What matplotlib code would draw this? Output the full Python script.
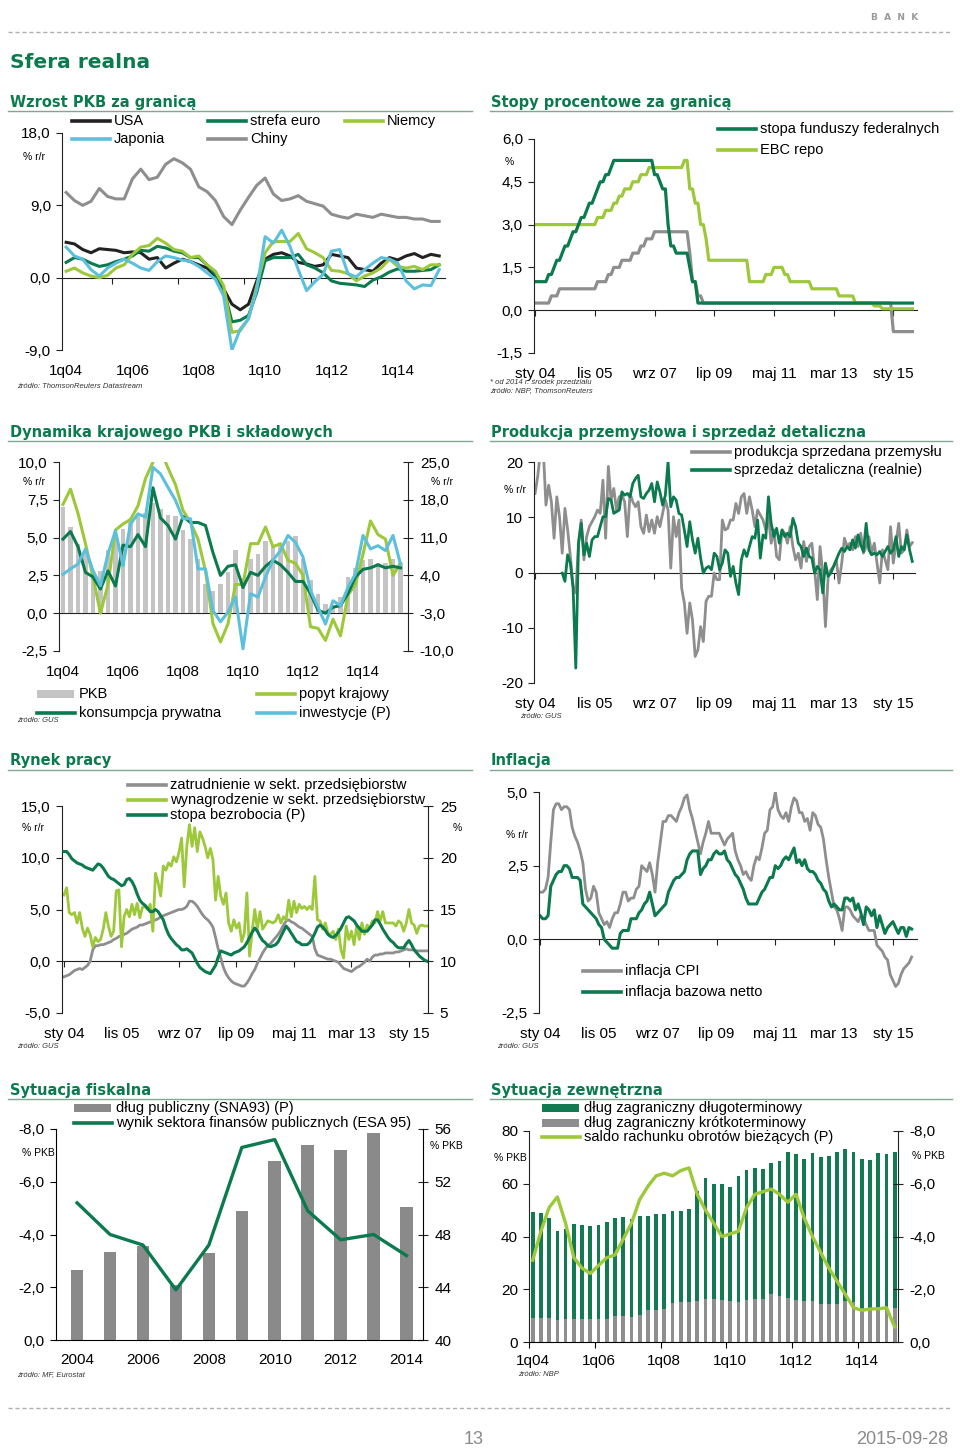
import numpy as np
import matplotlib
matplotlib.use('Agg')
import matplotlib.pyplot as plt
from matplotlib.lines import Line2D
from matplotlib.patches import Rectangle

plt.rcParams['font.family'] = ['Liberation Sans', 'DejaVu Sans']

# ---------------- data ----------------
# quarterly 1q04 - 2q15
q_ticks = [0, 8, 16, 24, 32, 40]
q_labels = ['1q04', '1q06', '1q08', '1q10', '1q12', '1q14']
# monthly sty 04 - sie 15
m_ticks = [0, 22, 44, 66, 88, 110, 132]
m_labels = ['sty 04', 'lis 05', 'wrz 07', 'lip 09', 'maj 11', 'mar 13', 'sty 15']

# Wzrost PKB za granica (% r/r)
usa = [4.4, 4.2, 3.5, 3.1, 3.6, 3.5, 3.4, 3.1, 3.2, 3.1, 2.3, 2.5, 1.2, 1.8, 2.3, 2.0,
       1.6, 1.2, 0.2, -1.4, -3.3, -4.0, -3.3, -0.4, 2.3, 2.9, 3.1, 2.7, 1.9, 1.7, 1.4, 1.6,
       2.9, 2.7, 2.5, 1.2, 1.0, 0.8, 1.8, 2.5, 2.2, 2.7, 3.0, 2.5, 2.9, 2.7]
strefa_euro = [1.9, 2.5, 2.3, 1.8, 1.4, 1.6, 2.0, 2.3, 2.7, 3.4, 3.3, 3.9, 3.7, 3.3, 3.1, 2.5,
               2.5, 1.6, 0.4, -1.4, -5.5, -5.3, -4.7, -1.8, 2.1, 2.5, 2.5, 2.5, 2.9, 1.6, 1.2, 0.6,
               -0.4, -0.7, -0.8, -0.9, -1.1, -0.3, 0.1, 0.7, 1.1, 0.8, 0.8, 0.9, 1.0, 1.6]
niemcy = [0.8, 1.2, 0.6, 0.2, 0.0, 0.3, 1.2, 1.6, 2.9, 3.8, 4.0, 4.9, 4.3, 3.5, 3.3, 2.5,
          2.7, 1.6, 0.8, -1.0, -6.8, -6.6, -5.1, -1.0, 3.1, 4.5, 4.5, 4.5, 5.5, 3.6, 3.1, 2.5,
          0.9, 0.8, 0.5, -0.4, 0.2, 0.6, 1.2, 2.3, 1.4, 1.2, 1.4, 1.0, 1.6, 1.6]
japonia = [3.8, 2.7, 2.3, 1.0, 0.2, 1.2, 1.8, 2.3, 1.8, 1.2, 0.9, 2.0, 2.7, 2.5, 2.2, 2.0,
           1.4, 0.6, -0.2, -2.3, -9.0, -6.4, -5.1, -1.4, 5.1, 4.3, 5.9, 3.9, 1.0, -1.6, -0.5, 0.4,
           3.3, 3.5, 0.5, 0.1, 1.0, 1.8, 2.5, 2.3, 1.8, -0.4, -1.4, -0.9, -1.0, 1.0]
chiny = [10.6, 9.6, 9.0, 9.5, 11.1, 10.1, 9.8, 9.8, 12.3, 13.5, 12.2, 12.5, 14.1, 14.8, 14.3, 13.5,
         11.3, 10.7, 9.6, 7.6, 6.6, 8.4, 10.0, 11.5, 12.4, 10.4, 9.6, 9.8, 10.2, 9.5, 9.2, 8.9,
         7.9, 7.6, 7.4, 7.9, 7.7, 7.5, 7.9, 7.7, 7.5, 7.5, 7.3, 7.3, 7.0, 7.0]

# Stopy procentowe: miesiac zmiany (0 = sty 04) i poziom stopy
fed_month = [0, 5, 7, 8, 10, 11, 13, 14, 16, 17, 19, 20, 22, 23, 24, 26, 28, 29,
             44, 46, 47, 49, 50, 52, 57, 58, 60]
fed_rate = [1.0, 1.25, 1.5, 1.75, 2.0, 2.25, 2.5, 2.75, 3.0, 3.25, 3.5, 3.75, 4.0, 4.25,
            4.5, 4.75, 5.0, 5.25, 4.75, 4.5, 4.25, 3.0, 2.25, 2.0, 1.5, 1.0, 0.25]
ebc_month = [0, 23, 26, 29, 31, 33, 36, 39, 42, 55, 57, 59, 61, 63, 64, 79, 85, 88, 92,
             94, 102, 112, 118, 125, 128]
ebc_rate = [3.0, 3.25, 3.5, 3.75, 4.0, 4.25, 4.5, 4.75, 5.0, 5.25, 4.25, 3.75, 3.0, 2.5,
            1.75, 1.0, 1.25, 1.5, 1.25, 1.0, 0.75, 0.5, 0.25, 0.15, 0.05]
snb_month = [0, 6, 9, 23, 27, 29, 32, 36, 39, 41, 44, 57, 58, 60, 62, 132]
snb_rate = [0.25, 0.5, 0.75, 1.0, 1.25, 1.5, 1.75, 2.0, 2.25, 2.5, 2.75, 2.0, 1.0, 0.5,
            0.25, -0.75]

# Dynamika krajowego PKB i skladowych
pkb = [7.0, 5.7, 4.6, 4.0, 2.5, 2.8, 4.2, 5.2, 5.6, 6.2, 6.4, 6.6, 7.3, 6.9, 6.5, 6.4,
       5.5, 4.9, 3.6, 1.9, 1.5, 1.9, 2.7, 4.2, 2.3, 3.6, 3.9, 4.8, 4.5, 4.6, 4.8, 5.1,
       3.6, 2.2, 1.3, 0.6, 0.5, 1.1, 2.4, 3.0, 3.5, 3.6, 3.3, 3.3, 3.6, 3.3]
popyt = [7.2, 8.2, 6.6, 4.6, 2.4, 0.0, 1.9, 5.5, 5.9, 6.2, 7.1, 8.9, 10.0, 10.8, 9.6, 8.5,
         6.8, 6.0, 4.9, 2.8, -0.7, -1.9, -0.7, 1.9, 1.9, 4.6, 4.6, 5.7, 4.4, 4.6, 3.5, 3.3,
         2.5, -0.9, -1.0, -1.8, -0.4, -1.5, 1.2, 1.9, 3.9, 6.1, 5.2, 4.9, 2.5, 3.3]
konsumpcja = [4.9, 5.4, 4.4, 2.7, 2.4, 1.6, 2.8, 1.8, 4.5, 4.4, 5.2, 4.4, 8.3, 6.3, 5.8, 4.9,
              6.4, 6.0, 6.0, 5.8, 4.0, 2.5, 3.1, 3.2, 1.7, 2.7, 2.5, 3.1, 3.5, 3.2, 2.7, 2.1,
              2.1, 1.3, 0.2, 0.0, 0.4, 0.5, 1.3, 2.4, 2.9, 3.0, 3.2, 3.0, 3.1, 3.0]
inwestycje = [4.2, 5.2, 6.1, 8.9, 4.9, 2.1, 8.0, 12.3, 5.8, 13.5, 15.4, 14.8, 24.0, 22.8, 20.3, 17.9,
              14.5, 14.5, 5.2, 5.2, -2.5, -4.6, -2.8, 0.0, -9.6, 0.6, 0.0, 3.7, 6.8, 8.6, 11.4, 10.1,
              7.4, 1.2, -1.9, -5.0, -0.7, -1.6, 1.8, 4.3, 11.4, 8.9, 9.5, 8.6, 11.4, 6.1]

# Produkcja przemyslowa i sprzedaz detaliczna (% r/r, miesiecznie)
produkcja = [14.3, 17.5, 22.0, 22.5, 12.2, 15.8, 12.8, 6.2, 13.7, 10.1,
             3.5, 11.6, 7.7, 2.9, -2.5, -3.7, 5.3, 9.5, 2.3, 6.5,
             8.3, 9.2, 10.1, 11.3, 10.7, 16.7, 6.2, 19.2, 13.1, 15.2,
             11.3, 13.7, 14.0, 12.8, 6.5, 14.3, 12.8, 11.9, 12.8, 8.3,
             7.1, 10.4, 7.4, 9.5, 7.1, 10.1, 8.3, 10.7, 13.1, 11.3,
             0.8, 10.1, 6.5, 9.5, -2.8, -5.5, -11.0, -5.5, -8.6, -15.2,
             -14.0, -9.8, -12.5, -5.2, -4.3, -4.3, -0.1, -1.3, -1.3, 9.5,
             7.7, 8.0, 9.5, 9.5, 12.5, 10.7, 13.7, 14.3, 10.7, 13.7,
             11.3, 8.3, 11.3, 10.4, 9.5, 7.7, 10.1, 5.3, 7.7, 2.9,
             2.3, 7.7, 7.1, 5.3, 8.3, 4.7, 2.3, 3.5, 0.8, 5.6,
             2.0, 4.7, 5.3, 0.5, -4.9, 4.7, -0.1, -9.8, -0.7, 0.5,
             1.1, 2.3, -1.9, 1.7, 6.2, 4.7, 5.3, 4.1, 6.5, 4.7,
             7.1, 3.5, 4.7, 6.5, 3.5, 5.3, 1.7, -1.9, 4.1, 2.3,
             0.5, 8.3, 1.7, 5.3, 8.9, 3.5, 4.1, 7.7, 4.7, 5.4]
sprzedaz_start = 10
sprzedaz = [-0.1, -1.6, 3.2, 1.7, -2.8, -17.3, 5.3, 8.9, 3.2, 5.3,
            2.9, 5.9, 6.5, 6.5, 8.3, 10.1, 10.1, 13.4, 13.1, 10.7,
            11.0, 11.3, 14.6, 14.0, 14.3, 13.7, 16.1, 17.0, 17.6, 13.7,
            13.4, 14.3, 14.9, 16.1, 12.8, 16.4, 14.6, 12.2, 14.0, 20.0,
            11.9, 13.7, 13.1, 10.7, 10.4, 7.7, 4.7, 9.2, 5.9, 3.5,
            6.2, 2.6, -0.1, 0.8, 1.1, 0.5, 3.5, 2.9, 0.5, 1.7,
            4.1, 3.5, -0.7, 1.1, -1.9, -4.0, 2.3, 4.1, 2.9, 4.7,
            6.5, 6.2, 9.5, 2.6, 6.8, 6.2, 13.7, 8.9, 6.5, 8.0,
            5.3, 7.7, 6.5, 7.1, 6.5, 9.8, 8.3, 5.3, 4.7, 2.9,
            4.4, 2.9, 2.6, -0.1, 1.1, 0.5, -3.7, 1.7, -0.7, -0.1,
            1.1, 2.3, 3.5, 4.4, 3.8, 4.7, 4.1, 5.9, 4.4, 6.8,
            5.0, 3.8, 8.9, 4.1, 3.2, 3.5, 3.2, 3.8, 2.9, 3.8,
            4.7, 3.5, 4.1, 6.5, 2.9, 4.7, 4.1, 6.8, 4.1, 2.0]

# Rynek pracy
zatrudnienie = [-1.5, -1.4, -1.3, -1.1, -0.9, -0.8, -0.7, -0.8, -0.6, -0.4,
                0.0, 1.1, 1.5, 1.5, 1.6, 1.6, 1.7, 1.8, 1.9, 2.1,
                2.2, 2.4, 2.4, 2.6, 2.7, 2.9, 3.1, 3.2, 3.3, 3.5,
                3.5, 3.6, 3.7, 3.8, 3.9, 4.0, 4.1, 4.3, 4.4, 4.5,
                4.6, 4.7, 4.8, 4.9, 5.0, 5.0, 5.1, 5.3, 5.8, 5.8,
                5.6, 5.3, 4.9, 4.5, 4.2, 4.0, 3.7, 3.3, 2.3, 1.2,
                0.3, -0.6, -1.2, -1.6, -1.9, -2.1, -2.2, -2.3, -2.4, -2.4,
                -2.1, -1.7, -1.2, -0.8, -0.2, 0.3, 0.8, 1.2, 1.5, 1.7,
                2.0, 2.3, 2.6, 3.0, 3.5, 3.9, 4.0, 3.8, 3.7, 3.5,
                3.3, 3.2, 3.0, 2.8, 2.6, 2.4, 1.2, 0.6, 0.5, 0.4,
                0.3, 0.2, 0.2, 0.1, 0.0, -0.1, -0.4, -0.7, -0.8, -0.9,
                -1.0, -0.8, -0.6, -0.5, -0.3, -0.1, 0.2, 0.0, 0.4, 0.6,
                0.6, 0.7, 0.7, 0.8, 0.8, 0.8, 0.8, 0.9, 0.9, 1.0,
                1.1, 1.2, 1.1, 1.1, 1.1, 1.0, 1.0, 1.0, 1.0, 1.0]
wynagrodzenie = [6.4, 7.1, 4.7, 4.5, 4.7, 3.7, 4.7, 3.2, 2.4, 3.2,
                 2.6, 1.4, 2.3, 1.9, 2.1, 3.1, 4.7, 3.4, 2.4, 2.9,
                 6.8, 6.9, 1.4, 4.3, 5.0, 4.3, 5.5, 4.5, 5.6, 4.2,
                 5.2, 5.3, 5.0, 5.5, 2.9, 8.5, 7.6, 6.3, 9.2, 8.8,
                 9.5, 9.2, 10.1, 9.6, 10.5, 11.9, 7.2, 11.1, 13.2, 11.1,
                 12.9, 10.6, 12.5, 11.9, 11.1, 10.0, 10.9, 9.8, 5.9, 8.2,
                 6.3, 5.5, 6.6, 3.7, 2.9, 4.0, 3.2, 3.7, 1.9, 2.7,
                 6.6, 0.5, 2.9, 5.0, 3.1, 4.8, 3.1, 3.5, 3.9, 3.8,
                 3.7, 3.9, 4.5, 3.7, 4.3, 4.0, 5.9, 4.3, 5.8, 4.7,
                 5.5, 5.1, 5.3, 5.0, 5.3, 5.0, 8.2, 4.0, 3.9, 3.1,
                 3.7, 2.7, 2.6, 2.9, 2.1, 3.1, 1.1, 0.3, 3.4, 2.1,
                 2.9, 1.6, 3.4, 2.1, 3.7, 2.6, 3.5, 3.2, 3.9, 3.7,
                 4.8, 3.9, 4.8, 3.7, 3.7, 3.7, 3.7, 3.4, 3.9, 3.7,
                 2.9, 3.7, 5.0, 3.7, 3.5, 2.7, 3.4, 3.5, 3.4, 3.4]
bezrobocie = [20.6, 20.6, 20.3, 19.9, 19.7, 19.5, 19.4, 19.3, 19.1, 19.0,
              18.9, 18.8, 19.1, 19.4, 19.3, 19.0, 18.6, 18.2, 18.0, 17.9,
              17.7, 17.5, 17.3, 17.4, 17.9, 18.0, 17.7, 17.2, 16.5, 15.9,
              15.6, 15.4, 15.1, 14.8, 14.8, 15.0, 14.8, 14.4, 14.0, 13.2,
              12.6, 12.2, 11.9, 11.6, 11.4, 11.1, 11.1, 11.2, 11.0, 10.8,
              10.3, 9.8, 9.4, 9.2, 9.0, 8.9, 8.8, 9.2, 9.6, 10.4,
              11.0, 10.9, 10.8, 10.7, 10.6, 10.8, 10.9, 11.0, 11.2, 11.4,
              11.8, 12.3, 12.8, 13.2, 12.9, 12.4, 12.0, 11.8, 11.5, 11.4,
              11.5, 11.6, 11.9, 12.4, 12.9, 13.4, 13.1, 12.7, 12.3, 11.9,
              11.8, 11.6, 11.6, 11.6, 11.8, 12.2, 12.7, 13.3, 13.5, 13.3,
              13.0, 12.6, 12.4, 12.3, 12.5, 12.8, 13.2, 13.7, 14.2, 14.3,
              14.1, 13.9, 13.5, 13.2, 12.9, 12.9, 12.9, 13.2, 13.5, 14.0,
              14.0, 13.6, 13.1, 12.7, 12.3, 12.0, 11.8, 11.5, 11.3, 11.3,
              11.3, 11.7, 12.0, 11.6, 11.1, 10.8, 10.5, 10.3, 10.1, 10.0]

# Inflacja
cpi = [1.6, 1.6, 1.7, 2.1, 3.3, 4.4, 4.6, 4.6, 4.4, 4.5,
       4.5, 4.4, 3.8, 3.5, 3.3, 3.0, 2.6, 1.7, 1.3, 1.4,
       1.8, 1.6, 0.9, 0.7, 0.5, 0.6, 0.4, 0.7, 0.9, 0.9,
       1.2, 1.6, 1.6, 1.3, 1.4, 1.4, 1.7, 1.8, 2.5, 2.4,
       2.3, 2.6, 2.2, 1.6, 2.6, 3.3, 4.0, 4.0, 4.2, 4.2,
       4.1, 4.0, 4.3, 4.5, 4.8, 4.9, 4.4, 4.1, 3.7, 3.3,
       2.9, 3.3, 3.6, 4.0, 3.6, 3.6, 3.6, 3.6, 3.4, 3.2,
       3.4, 3.5, 3.6, 3.0, 2.7, 2.5, 2.2, 2.3, 2.1, 2.0,
       2.5, 2.8, 2.7, 3.1, 3.6, 3.7, 4.4, 4.5, 5.0, 4.4,
       4.2, 4.1, 4.3, 4.0, 4.5, 4.8, 4.7, 4.3, 4.3, 4.0,
       4.1, 3.7, 4.3, 4.2, 3.9, 3.8, 3.4, 2.7, 2.1, 1.6,
       1.1, 1.0, 0.7, 0.3, 1.1, 1.1, 1.0, 0.8, 0.7, 0.6,
       0.8, 0.7, 0.5, 0.3, 0.3, 0.3, -0.2, -0.3, -0.4, -0.6,
       -0.7, -1.2, -1.4, -1.6, -1.5, -1.2, -1.0, -0.9, -0.8, -0.6]
bazowa = [0.8, 0.7, 0.7, 0.8, 1.8, 2.0, 2.2, 2.3, 2.3, 2.5,
          2.5, 2.4, 2.1, 2.1, 2.1, 2.0, 1.2, 1.1, 1.0, 0.9,
          0.8, 0.7, 0.5, 0.4, 0.0, -0.1, -0.2, -0.3, -0.3, -0.3,
          0.2, 0.3, 0.3, 0.3, 0.7, 0.7, 0.7, 0.9, 1.0, 1.2,
          1.3, 1.6, 1.2, 0.8, 0.9, 1.0, 1.1, 1.2, 1.6, 1.8,
          2.0, 2.1, 2.1, 2.2, 2.3, 2.7, 2.9, 3.0, 3.0, 3.0,
          2.2, 2.4, 2.5, 2.7, 2.7, 2.9, 3.0, 2.9, 2.9, 3.0,
          2.7, 2.6, 2.4, 2.2, 2.1, 1.9, 1.7, 1.4, 1.2, 1.2,
          1.2, 1.2, 1.4, 1.6, 1.7, 1.9, 2.1, 2.1, 2.5, 2.4,
          2.5, 2.7, 2.8, 2.7, 2.9, 3.1, 2.6, 2.7, 2.5, 2.7,
          2.4, 2.3, 2.3, 2.2, 2.0, 1.9, 1.7, 1.6, 1.3, 1.1,
          1.2, 1.1, 1.0, 1.0, 1.4, 1.4, 1.3, 1.4, 1.0, 1.2,
          0.9, 0.5, 1.1, 1.0, 0.8, 1.0, 0.4, 0.8, 0.5, 0.2,
          0.4, 0.5, 0.6, 0.4, 0.2, 0.4, 0.4, 0.1, 0.4, 0.35]

# Sytuacja fiskalna
lata = [2004, 2005, 2006, 2007, 2008, 2009, 2010, 2011, 2012, 2013, 2014]
dlug_publiczny = [45.3, 46.7, 47.1, 44.2, 46.6, 49.8, 53.6, 54.8, 54.4, 55.7, 50.1]
wynik_sfp = [-5.2, -4.0, -3.6, -1.9, -3.6, -7.3, -7.6, -4.9, -3.8, -4.0, -3.2]

# Sytuacja zewnetrzna (1q04 - 1q15)
dlug_dlugo = [40.2, 39.8, 37.9, 33.9, 34.1, 36.0, 35.5, 35.3, 35.5, 36.8, 37.1, 37.6, 37.0, 37.6, 35.9,
              36.1, 35.8, 34.8, 34.5, 35.2, 41.6, 45.8, 43.8, 44.2, 43.4, 47.9, 49.0, 49.7, 49.5, 49.7,
              51.1, 55.4, 55.1, 53.9, 56.2, 55.8, 56.1, 57.7, 57.7, 57.0, 56.3, 56.6, 59.2, 59.1, 59.0]
dlug_krotko = [9.1, 9.1, 9.1, 8.2, 8.6, 8.6, 8.7, 8.7, 8.7, 8.7, 9.9, 9.7, 9.5, 10.1, 12.0,
               12.3, 12.6, 14.9, 15.2, 15.2, 15.5, 16.4, 16.2, 15.8, 15.4, 15.2, 16.1, 16.2, 16.2, 18.1,
               17.4, 16.8, 16.1, 15.5, 15.4, 14.5, 14.3, 14.5, 15.5, 15.2, 13.0, 12.3, 12.5, 12.3, 12.9]
saldo_cab = [-3.1, -4.2, -5.1, -5.5, -4.5, -3.2, -2.8, -2.6, -2.9, -3.2, -3.3, -3.9, -4.5, -5.4, -5.9,
             -6.3, -6.4, -6.3, -6.5, -6.6, -5.6, -5.0, -4.5, -4.0, -4.1, -4.2, -5.1, -5.6, -5.7, -5.8,
             -5.6, -5.3, -5.6, -4.7, -4.0, -3.4, -2.8, -2.3, -1.8, -1.3, -1.2, -1.25, -1.26, -1.3, -0.57]

# ---------------- style ----------------
GREEN = '#0b7a4e'
LIME = '#9cc83a'
BLUE = '#5cc0dc'
GREY = '#8e8e8e'
LGREY = '#c4c4c4'
BLACK = '#222222'
TITLE = '#0b7b4f'
AX = '#222222'

W, H = 960, 1450
fig = plt.figure(figsize=(9.6, 14.5), dpi=100)


def fx(x):
    return x / W


def fy(y):
    return 1 - y / H


def pl(v, d=1):
    return f'{v:.{d}f}'.replace('.', ',')


def panel(l, t, r, b):
    ax = fig.add_axes([fx(l), fy(b), (r - l) / W, (b - t) / H])
    ax.patch.set_alpha(0)
    for s in ('top', 'right', 'bottom'):
        ax.spines[s].set_visible(False)
    ax.spines['left'].set_linewidth(0.8)
    ax.spines['left'].set_color(AX)
    ax.tick_params(axis='y', length=4, width=0.8, labelsize=11, pad=4, color=AX)
    ax.tick_params(axis='x', length=0, labelsize=11, pad=10)
    return ax


def twin(ax):
    tw = ax.twinx()
    for s in ('top', 'bottom', 'left'):
        tw.spines[s].set_visible(False)
    tw.spines['right'].set_linewidth(0.8)
    tw.spines['right'].set_color(AX)
    tw.tick_params(axis='y', length=7, width=0.8, labelsize=11, pad=5,
                   direction='inout', color=AX)
    return tw


def zero_line(ax, frac, ticks):
    sec = ax.secondary_xaxis(frac)
    sec.set_alignment('bottom')
    sec.set_xticks(ticks)
    sec.tick_params(length=4, width=0.8, labelbottom=False, color=AX)
    sec.spines['bottom'].set_linewidth(0.8)
    sec.spines['bottom'].set_color(AX)


def title(x, y, text, x1, x2):
    fig.text(fx(x), fy(y), text, fontsize=10.5, fontweight='bold', color=TITLE,
             family='DejaVu Sans', va='center')
    fig.add_artist(Line2D([fx(x1), fx(x2)], [fy(y + 8.5), fy(y + 8.5)],
                          color='#7fa893', lw=1))


def key(x, y, label, color, patch=False):
    if patch:
        fig.add_artist(Rectangle((fx(x), fy(y + 4)), 37 / W, 8 / H, color=color, lw=0))
    else:
        fig.add_artist(Line2D([fx(x), fx(x + 38)], [fy(y), fy(y)], color=color, lw=2.6))
    fig.text(fx(x + 42), fy(y), label, fontsize=10.5, va='center')


def unit(x, y, text):
    fig.text(fx(x), fy(y), text, fontsize=7.5, va='center')


def source(x, y, text):
    fig.text(fx(x), fy(y), text, fontsize=5.5, style='italic', va='center', color='#333333')


def hold(change_month, rate, n=140):
    out = []
    k = 0
    for m in range(n):
        while k + 1 < len(change_month) and change_month[k + 1] <= m:
            k += 1
        out.append(rate[k])
    return np.array(out)


# ---------------- header / footer ----------------
fig.add_artist(Line2D([fx(8), fx(952)], [fy(32), fy(32)], color='#b0b0b0', lw=1, ls=(0, (3, 2))))
fig.add_artist(Line2D([fx(8), fx(952)], [fy(1408), fy(1408)], color='#b0b0b0', lw=1, ls=(0, (3, 2))))
fig.text(fx(895), fy(17), 'B  A  N  K', fontsize=6.5, color='#9a9a9a', ha='center', va='center',
         family='DejaVu Sans', fontweight='bold')
fig.text(fx(10), fy(63), 'Sfera realna', fontsize=14.5, fontweight='bold', color=TITLE,
         family='DejaVu Sans', va='center')
fig.text(fx(474), fy(1440), '13', fontsize=13, color='#8a8a8a', ha='center', va='center')
fig.text(fx(948), fy(1440), '2015-09-28', fontsize=13, color='#8a8a8a', ha='right', va='center')

# ---------------- 1. Wzrost PKB za granica ----------------
title(10, 102, 'Wzrost PKB za granicą', 8, 472)
q = np.arange(len(usa))
ax = panel(62, 133, 445, 350)
ax.plot(q, chiny, color=GREY, lw=2.2)
ax.plot(q, usa, color=BLACK, lw=2.2)
ax.plot(q, strefa_euro, color=GREEN, lw=2.2)
ax.plot(q, niemcy, color=LIME, lw=2.2)
ax.plot(q, japonia, color=BLUE, lw=2.2)
ax.set_xlim(-0.5, 45.7)
ax.set_ylim(-9, 18)
ax.set_yticks([-9, 0, 9, 18], [pl(v) for v in [-9, 0, 9, 18]])
ax.set_xticks(q_ticks, q_labels)
zero_line(ax, 9 / 27, [8 * k - 2.5 for k in range(1, 6)])
key(72, 121, 'USA', BLACK)
key(208, 121, 'strefa euro', GREEN)
key(345, 121, 'Niemcy', LIME)
key(72, 139, 'Japonia', BLUE)
key(208, 139, 'Chiny', GREY)
unit(23, 157, '% r/r')
source(17, 387, 'źródło: ThomsonReuters Datastream')

# ---------------- 2. Stopy procentowe za granica ----------------
title(491, 102, 'Stopy procentowe za granicą', 490, 952)
m = np.arange(140)
ax = panel(534, 139, 917, 353)
ax.plot(m, hold(snb_month, snb_rate), color=GREY, lw=2.3)
ax.plot(m, hold(ebc_month, ebc_rate), color=LIME, lw=2.3)
ax.plot(m, hold(fed_month, fed_rate), color=GREEN, lw=2.3)
ax.set_xlim(-0.4, 140.7)
ax.set_ylim(-1.5, 6.0)
yt = [-1.5, 0.0, 1.5, 3.0, 4.5, 6.0]
ax.set_yticks(yt, [pl(v) for v in yt])
ax.set_xticks(m_ticks, m_labels)
zero_line(ax, 1.5 / 7.5, m_ticks)
key(718, 129, 'stopa funduszy federalnych', GREEN)
key(718, 150, 'EBC repo', LIME)
unit(505, 162, '%')
source(490, 383, '* od 2014 r. środek przedziału')
source(490, 391, 'źródło: NBP, ThomsonReuters')

# ---------------- 3. Dynamika krajowego PKB ----------------
title(10, 432, 'Dynamika krajowego PKB i składowych', 8, 472)
q = np.arange(len(pkb))
ax = panel(59, 462, 408, 651)
ax.bar(q, pkb, width=0.6, color=LGREY)
ax.plot(q, popyt, color=LIME, lw=2.2)
ax.plot(q, konsumpcja, color=GREEN, lw=2.2)
ax.set_xlim(-0.53, 46)
ax.set_ylim(-2.5, 10)
yt = [-2.5, 0, 2.5, 5, 7.5, 10]
ax.set_yticks(yt, [pl(v) for v in yt])
ax.set_xticks(q_ticks, q_labels)
zero_line(ax, 2.5 / 12.5, [])
tw = twin(ax)
tw.plot(q, inwestycje, color=BLUE, lw=2.2)
tw.set_ylim(-10, 25)
yt = [-10, -3, 4, 11, 18, 25]
tw.set_yticks(yt, [pl(v) for v in yt])
key(37, 694, 'PKB', LGREY, patch=True)
key(257, 694, 'popyt krajowy', LIME)
key(37, 713, 'konsumpcja prywatna', GREEN)
key(257, 713, 'inwestycje (P)', BLUE)
unit(23, 482, '% r/r')
unit(431, 482, '% r/r')
source(17, 720, 'źródło: GUS')

# ---------------- 4. Produkcja i sprzedaz ----------------
title(491, 432, 'Produkcja przemysłowa i sprzedaż detaliczna', 490, 952)
ax = panel(534, 462, 915, 683)
ax.plot(np.arange(len(produkcja)), produkcja, color=GREY, lw=2.0)
ax.plot(np.arange(len(sprzedaz)) + sprzedaz_start, sprzedaz, color=GREEN, lw=2.0)
ax.set_xlim(-0.4, 140.0)
ax.set_ylim(-20, 20)
yt = [-20, -10, 0, 10, 20]
ax.set_yticks(yt, [str(v) for v in yt])
ax.set_xticks(m_ticks, m_labels)
zero_line(ax, 0.5, m_ticks)
key(692, 452, 'produkcja sprzedana przemysłu', GREY)
key(692, 470, 'sprzedaż detaliczna (realnie)', GREEN)
unit(504, 490, '% r/r')
source(520, 716, 'źródło: GUS')

# ---------------- 5. Rynek pracy ----------------
title(10, 761, 'Rynek pracy', 8, 472)
ax = panel(62, 806, 428, 1013)
ax.plot(np.arange(len(zatrudnienie)), zatrudnienie, color=GREY, lw=2.0)
ax.plot(np.arange(len(wynagrodzenie)), wynagrodzenie, color=LIME, lw=2.0)
ax.set_xlim(-0.77, 139.3)
ax.set_ylim(-5, 15)
yt = [-5, 0, 5, 10, 15]
ax.set_yticks(yt, [pl(v) for v in yt])
ax.set_xticks(m_ticks, m_labels)
zero_line(ax, 5 / 20, m_ticks)
tw = twin(ax)
tw.plot(np.arange(len(bezrobocie)), bezrobocie, color=GREEN, lw=2.2)
tw.set_ylim(5, 25)
yt = [5, 10, 15, 20, 25]
tw.set_yticks(yt, [str(v) for v in yt])
key(128, 785, 'zatrudnienie w sekt. przedsiębiorstw', GREY)
key(128, 800, 'wynagrodzenie w sekt. przedsiębiorstw', LIME)
key(128, 815, 'stopa bezrobocia (P)', GREEN)
unit(22, 828, '% r/r')
unit(453, 828, '%')
source(17, 1046, 'źródło: GUS')

# ---------------- 6. Inflacja ----------------
title(491, 761, 'Inflacja', 490, 952)
ax = panel(539, 792, 917, 1013)
ax.plot(np.arange(len(cpi)), cpi, color=GREY, lw=2.0)
ax.plot(np.arange(len(bazowa)), bazowa, color=GREEN, lw=2.2)
ax.set_xlim(-0.4, 141)
ax.set_ylim(-2.5, 5.0)
yt = [-2.5, 0.0, 2.5, 5.0]
ax.set_yticks(yt, [pl(v) for v in yt])
ax.set_xticks(m_ticks, m_labels)
zero_line(ax, 2.5 / 7.5, m_ticks)
key(583, 971, 'inflacja CPI', GREY)
key(583, 992, 'inflacja bazowa netto', GREEN)
unit(506, 835, '% r/r')
source(497, 1046, 'źródło: GUS')

# ---------------- 7. Sytuacja fiskalna ----------------
title(10, 1090, 'Sytuacja fiskalna', 8, 472)
ax = panel(56, 1129, 423, 1340)
ax.bar(lata, dlug_publiczny, width=0.38, color='#8a8a8a')
ax.set_ylim(40, 56)
ax.set_xlim(2003.36, 2014.5)
ax.set_xticks([2004, 2006, 2008, 2010, 2012, 2014],
              ['2004', '2006', '2008', '2010', '2012', '2014'])
ax.tick_params(axis='x', pad=9)
ax.spines['bottom'].set_visible(True)
ax.spines['bottom'].set_linewidth(0.8)
tw = ax.twinx()
# debt scale on the right, balance scale on the left
ax.yaxis.tick_right()
ax.spines['left'].set_visible(False)
ax.spines['right'].set_visible(True)
ax.spines['right'].set_linewidth(0.8)
ax.tick_params(axis='y', length=7, direction='inout', pad=5)
yt = [40, 44, 48, 52, 56]
ax.set_yticks(yt, [str(v) for v in yt])
tw.yaxis.tick_left()
for s in ('top', 'bottom', 'right'):
    tw.spines[s].set_visible(False)
tw.spines['left'].set_visible(True)
tw.spines['left'].set_linewidth(0.8)
tw.tick_params(axis='y', length=4, width=0.8, labelsize=11, pad=4)
tw.plot(lata, wynik_sfp, color=GREEN, lw=2.4)
tw.set_ylim(0, -8)
yt = [0, -2, -4, -6, -8]
tw.set_yticks(yt, [pl(v) for v in yt])
key(74, 1108, 'dług publiczny (SNA93) (P)', '#8a8a8a', patch=True)
key(74, 1123, 'wynik sektora finansów publicznych (ESA 95)', GREEN)
unit(22, 1153, '% PKB')
unit(430, 1146, '% PKB')
source(17, 1375, 'źródło: MF, Eurostat')

# ---------------- 8. Sytuacja zewnetrzna ----------------
title(491, 1090, 'Sytuacja zewnętrzna', 490, 952)
q = np.arange(len(dlug_dlugo))
ax = panel(529, 1131, 898, 1342)
ax.bar(q, dlug_krotko, width=0.45, color=GREY)
ax.bar(q, dlug_dlugo, width=0.45, bottom=dlug_krotko, color='#127a50')
ax.set_xlim(-0.4, 44.4)
ax.set_ylim(0, 80)
yt = [0, 20, 40, 60, 80]
ax.set_yticks(yt, [str(v) for v in yt])
ax.spines['bottom'].set_visible(True)
ax.spines['bottom'].set_linewidth(0.8)
ax.set_xticks([8 * k - 0.45 for k in range(6)])
ax.set_xticks(q_ticks, q_labels, minor=True)
ax.tick_params(axis='x', which='major', length=4, width=0.8, labelbottom=False)
ax.tick_params(axis='x', which='minor', length=0, pad=9, labelsize=11)
tw = twin(ax)
tw.plot(q, saldo_cab, color=LIME, lw=2.4)
tw.set_ylim(0, -8)
yt = [0, -2, -4, -6, -8]
tw.set_yticks(yt, [pl(v) for v in yt])
key(542, 1108, 'dług zagraniczny długoterminowy', '#127a50', patch=True)
key(542, 1123, 'dług zagraniczny krótkoterminowy', GREY, patch=True)
key(542, 1137, 'saldo rachunku obrotów bieżących (P)', LIME)
unit(494, 1158, '% PKB')
unit(912, 1156, '% PKB')
source(518, 1375, 'źródło: NBP')

fig.savefig('out.png', dpi=100)
